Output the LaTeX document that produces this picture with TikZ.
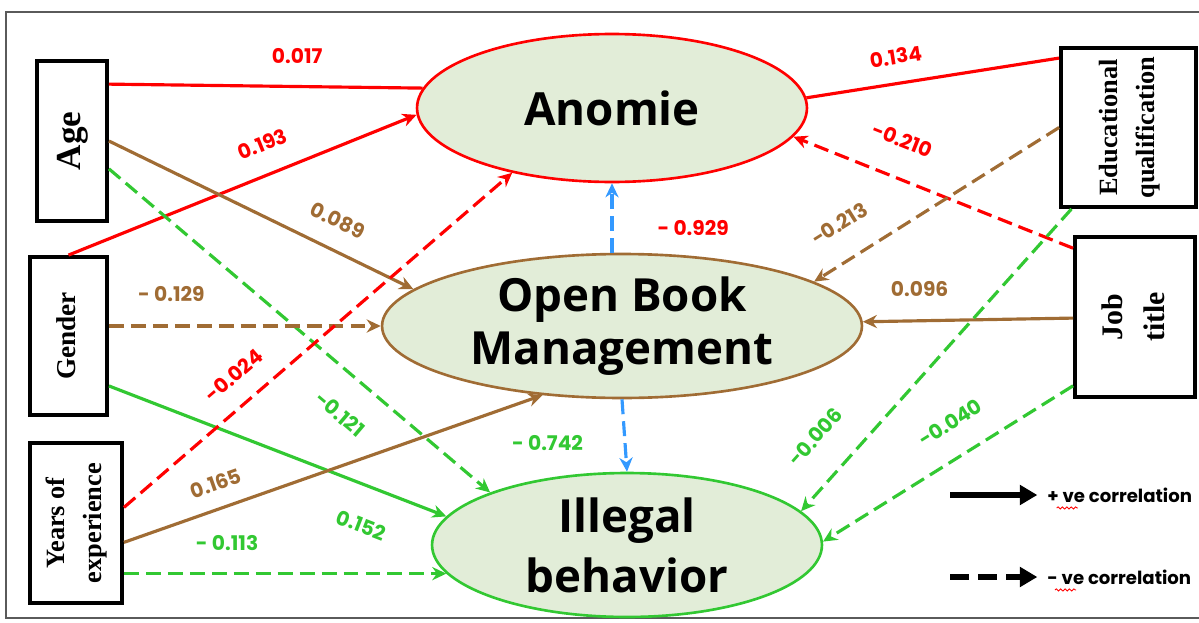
\documentclass[tikz,border=0pt]{standalone}
\usepackage{graphicx}
\usepackage{fontspec}
\setmainfont{Liberation Serif}
\newfontfamily\ellfont{Open Sans}
\newfontfamily\numfont{Poppins}
\usetikzlibrary{positioning,shapes.geometric,arrows.meta,decorations.pathmorphing}
\definecolor{cred}{RGB}{255,0,0}
\definecolor{cbrown}{RGB}{160,108,52}
\definecolor{cgreen}{RGB}{50,200,50}
\definecolor{cblue}{RGB}{51,153,255}
\definecolor{cfill}{RGB}{226,237,216}
\definecolor{cframe}{RGB}{90,90,90}
\newcommand{\vtxt}[3]{\rotatebox{90}{\fontsize{#1}{#2}\selectfont\begin{tabular}{@{}c@{}}#3\end{tabular}}}
\tikzstyle{varbox} = [draw,line width=2.2pt,inner sep=0,font=\bfseries]
\tikzstyle{latent} = [ellipse,draw,fill=cfill,line width=1.5pt,inner sep=0,align=center,font={\ellfont\bfseries\fontsize{26}{30}\selectfont}]
\tikzstyle{link} = [line width=1.8pt]
\tikzstyle{arrow} = [link,-{Stealth[length=8pt,width=7.5pt]}]
\tikzstyle{dasharrow} = [arrow,dash pattern=on 8.5pt off 4pt]
\tikzstyle{lbl} = [font={\numfont\bfseries\fontsize{11.5}{13}\selectfont},inner sep=1pt]
\tikzstyle{legarrow} = [line width=3pt,-{Triangle[length=10pt,width=11pt]}]
\tikzstyle{legtext} = [anchor=west,inner sep=0,font={\numfont\bfseries\fontsize{10.3}{12}\selectfont}]
\tikzstyle{squig} = [red,line width=0.5pt,decorate,decoration={snake,amplitude=0.6pt,segment length=2.5pt}]

\begin{document}
\begin{tikzpicture}[x=0.02cm,y=-0.02cm]
    \useasboundingbox (0,0) rectangle (1199,622);
    \draw [cframe,line width=1.2pt] (1199,12) -- (6,12) -- (6,618) -- (1199,618);

    \node [varbox,minimum width=1.4cm,minimum height=3.2cm] (age) at (72,141) {\vtxt{20}{24}{Age}};
    \node [varbox,minimum width=1.54cm,minimum height=3.16cm] (gender) at (68.5,336) {\vtxt{15.5}{19}{Gender}};
    \node [varbox,minimum width=1.84cm,minimum height=3.2cm] (years) at (76,523) {\vtxt{15}{21}{Years of\\experience}};
    \node [varbox,minimum width=2.7cm,minimum height=3.18cm] (edu) at (1128.5,127.5) {\vtxt{15}{21}{Educational\\qualification}};
    \node [varbox,minimum width=2.4cm,minimum height=3.2cm] (job) at (1135,317) {\vtxt{17}{24}{Job\\title}};

    \node [latent,draw=cred,minimum width=7.8cm,minimum height=2.96cm] (anomie) at (612,108) {Anomie};
    \node [latent,draw=cbrown,minimum width=9.6cm,minimum height=2.88cm] (obm) at (622,326) {Open Book\\Management};
    \node [latent,draw=cgreen,minimum width=7.8cm,minimum height=2.88cm,font={\ellfont\bfseries\fontsize{26}{34}\selectfont}] (illegal) at (627,545) {Illegal\\behavior};

    \draw [link,cred] (age.57) -- (anomie.174) node[lbl,pos=0.6,above=11pt,text=cred] {0.017};
    \draw [arrow,cred] (gender.north) -- (anomie.182) node[lbl,pos=0.59,sloped,above=11pt] {0.193};
    \draw [arrow,cbrown] (age.east) -- (obm.170) node[lbl,pos=0.71,sloped,above=10pt] {0.089};
    \draw [dasharrow,cgreen] (age.-37) -- (illegal.159) node[lbl,pos=0.67,sloped,below=15pt] {-0.121};
    \draw [dasharrow,cbrown] (gender.east |- obm.west) -- (obm.west) node[lbl,pos=0.23,above=12pt] {- 0.129};
    \draw [arrow,cgreen] (gender.-51) -- (illegal.171) node[lbl,pos=0.79,sloped,below=16pt] {0.152};
    \draw [dasharrow,cred] (years.18) -- (anomie.213) node[lbl,pos=0.33,sloped,above=10pt] {-0.024};
    \draw [arrow,cbrown] (years.-22) -- (obm.221) node[lbl,pos=0.24,sloped,above=8pt] {0.165};
    \draw [dasharrow,cgreen] (years.east |- illegal.189) -- (illegal.189) node[lbl,pos=0.32,above=11pt] {- 0.113};
    \draw [dasharrow,cblue] (anomie.south |- obm.north) -- (anomie.south) node[lbl,pos=0.35,right=24pt,text=cred] {- 0.929};
    \draw [dasharrow,cblue] (obm.south) -- (illegal.north) node[lbl,pos=0.6,left=22pt,text=cgreen] {- 0.742};
    \draw [link,cred] (edu.135) -- (anomie.3) node[lbl,pos=0.63,sloped,above=9pt] {0.134};
    \draw [dasharrow,cred] (job.132) -- (anomie.-9) node[lbl,pos=0.66,sloped,above=15pt] {-0.210};
    \draw [dasharrow,cbrown] (edu.west) -- (obm.13) node[lbl,pos=0.82,sloped,above=14pt] {-0.213};
    \draw [arrow,cbrown] (job) -- (obm) node[lbl,pos=0.73,above=12pt] {0.096};
    \draw [dasharrow,cgreen] (edu.-125) -- (illegal.11) node[lbl,pos=0.84,sloped,above=16pt] {-0.006};
    \draw [dasharrow,cgreen] (job.228) -- (illegal.1) node[lbl,pos=0.42,sloped,above=13pt] {-0.040};

    \coordinate (lg1) at (950,495);
    \coordinate (lg2) at (950,577);
    \node [legtext] (lgt1) at (1047,495) {+ ve correlation};
    \node [legtext] (lgt2) at (1047,577) {- ve correlation};
    \draw [legarrow] (lg1) -- ([xshift=-5.5pt]lgt1.west);
    \draw [legarrow,dash pattern=on 11pt off 5pt] (lg2) -- ([xshift=-5.5pt]lgt2.west);
    \draw [squig] ([xshift=5.5pt,yshift=-3pt]lgt1.south west) -- ++(12pt,0);
    \draw [squig] ([xshift=4.5pt,yshift=-3pt]lgt2.south west) -- ++(12pt,0);
\end{tikzpicture}
\end{document}
